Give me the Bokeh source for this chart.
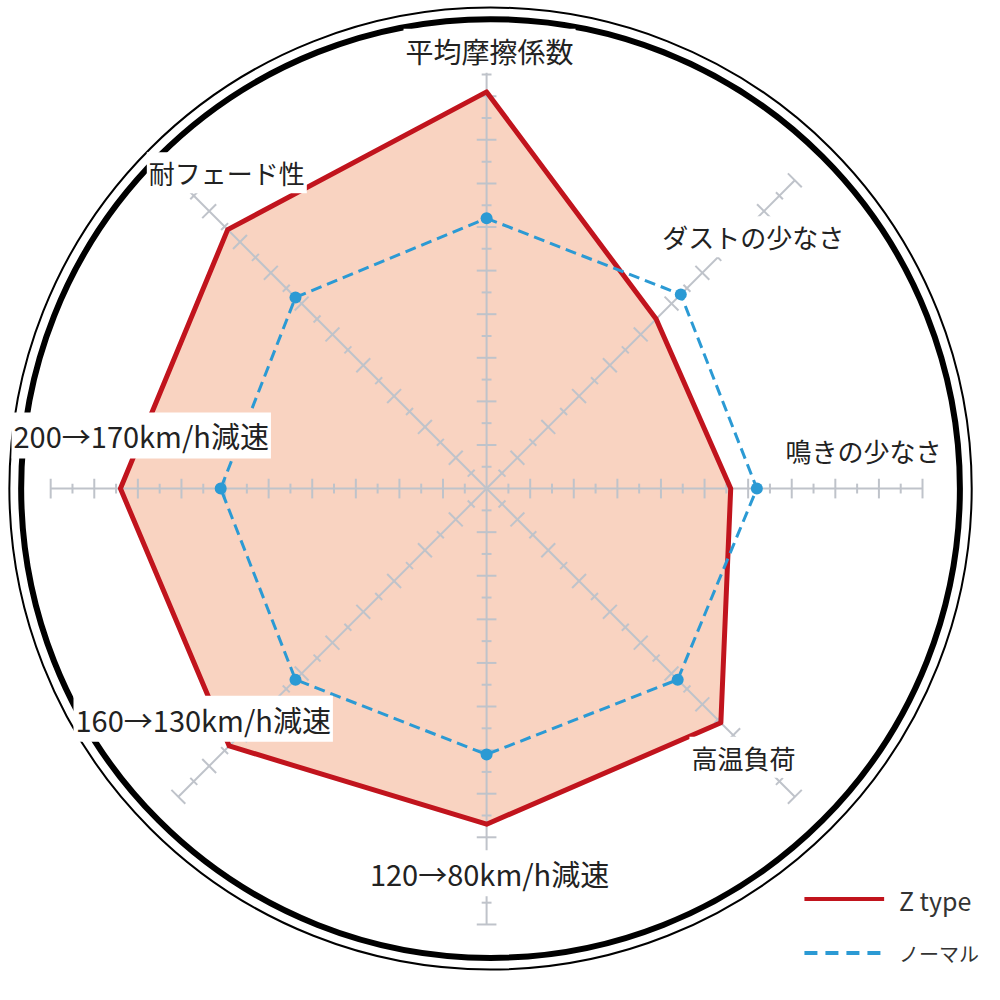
import numpy as np
from bokeh.plotting import figure
from bokeh.models import Range1d, Label
from bokeh.embed import file_html
from bokeh.resources import INLINE
from bokeh.core.properties import value

# ---- data ----
categories = ["平均摩擦係数", "ダストの少なさ", "鳴きの少なさ", "高温負荷",
              "120→80km/h減速", "160→130km/h減速", "200→170km/h減速", "耐フェード性"]
z_type = [9.1, 5.5, 5.6, 7.6, 7.7, 8.35, 8.4, 8.4]
normal = [6.2, 6.3, 6.2, 6.2, 6.1, 6.2, 6.1, 6.2]
scale_max = 10
series_names = ["Z type", "ノーマル"]

# ---- geometry / style ----
FONT = "Noto Sans CJK JP"
CX, CY = 494, 1000 - 496
R = 443.0
unit = R / scale_max
RED = "#c1141d"
BLUE = "#2b9ad4"
FILL = "#f9d3c1"
AXIS = "#bfc3ca"

n = len(categories)
ang = np.radians(90 - np.arange(n) * 360 / n)
ux, uy = np.cos(ang), np.sin(ang)

p = figure(width=984, height=984, output_backend="svg", toolbar_location=None,
           x_range=Range1d(0, 1000), y_range=Range1d(0, 1000), min_border=0)
p.axis.visible = False
p.grid.visible = False
p.outline_line_color = None
p.background_fill_color = "white"

# rings
p.circle(x=[498], y=[1000 - 496], radius=489, fill_color=None, line_color="black", line_width=2)
p.circle(x=[498], y=[1000 - 496], radius=477, fill_color=None, line_color="black", line_width=6)

# filled polygon of Z type
zr = np.array(z_type) * unit
zx = CX + zr * ux
zy = CY + zr * uy
p.patch(list(zx), list(zy), fill_color=FILL, line_color=None)

# axes
p.segment(x0=[CX] * n, y0=[CY] * n, x1=list(CX + R * ux), y1=list(CY + R * uy),
          line_color=AXIS, line_width=2)
tx0, ty0, tx1, ty1 = [], [], [], []
for i in range(n):
    px, py = -uy[i], ux[i]
    for k in range(1, 2 * scale_max + 1):
        r = k * unit / 2
        h = 10 if k % 2 == 0 else 5
        bx, by = CX + r * ux[i], CY + r * uy[i]
        tx0.append(bx - h * px); ty0.append(by - h * py)
        tx1.append(bx + h * px); ty1.append(by + h * py)
p.segment(x0=tx0, y0=ty0, x1=tx1, y1=ty1, line_color=AXIS, line_width=2)

# Z type outline
p.patch(list(zx), list(zy), fill_color=None, line_color=RED, line_width=5, line_join="round")

# normal
nr = np.array(normal) * unit
nx = CX + nr * ux
ny = CY + nr * uy
p.patch(list(nx), list(ny), fill_color=None, line_color=BLUE, line_width=3, line_dash="11 6")
p.scatter(list(nx), list(ny), size=12, fill_color=BLUE, line_color=None)

# category labels (reference centres and sizes)
label_pos = [(497, 51), (765, 240), (877, 457), (755, 769),
             (497, 887), (206, 730), (143, 442), (230, 175)]
label_size = [28, 26, 26, 26, 29, 29, 29, 26]
for name, (lx, ly), fs in zip(categories, label_pos, label_size):
    p.add_layout(Label(x=lx, y=1000 - ly, text=name, text_align="center", text_baseline="middle",
                       text_font=FONT, text_font_size=f"{fs}px", text_color="#222222",
                       background_fill_color="white", background_fill_alpha=1.0, padding=2))

# legend
p.line(x=[817, 898], y=[1000 - 913] * 2, line_color=RED, line_width=4)
p.line(x=[817, 895], y=[1000 - 968] * 2, line_color=BLUE, line_width=4, line_dash="13 8")
p.text(x=[913], y=[1000 - 914], text=[series_names[0]],
       text_font=value(FONT), text_font_size="25px", text_color="#333333",
       text_baseline="middle", text_align="left")
p.text(x=[913], y=[1000 - 969], text=[series_names[1]],
       text_font=value(FONT), text_font_size="20px", text_color="#333333",
       text_baseline="middle", text_align="left")

open("out.html", "w").write(file_html(p, INLINE))
